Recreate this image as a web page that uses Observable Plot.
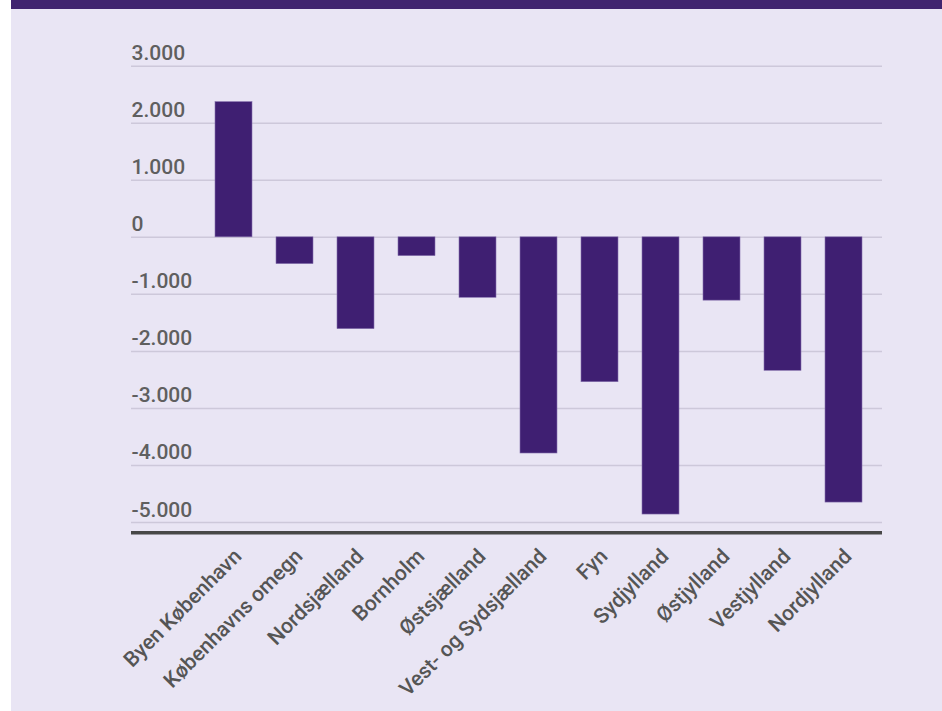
<!DOCTYPE html>
<html>
<head>
<meta charset="utf-8">
<script src="https://cdn.jsdelivr.net/npm/d3@7"></script>
<script src="https://cdn.jsdelivr.net/npm/@observablehq/plot@0.6"></script>
<style>
  html, body { margin: 0; padding: 0; background: #ffffff; }
  #wrap {
    position: absolute; left: 11px; top: 0;
    width: 931px; height: 702px;
    border-top: 9px solid #40246f;
    background: #e9e5f4;
  }
  svg { display: block; font-family: Roboto, "Noto Sans", sans-serif; }
</style>
</head>
<body>
<div id="wrap"></div>
<script>
const regions = ["Byen København", "Københavns omegn", "Nordsjælland", "Bornholm", "Østsjælland",
  "Vest- og Sydsjælland", "Fyn", "Sydjylland", "Østjylland", "Vestjylland", "Nordjylland"];
const values = [2370, -470, -1610, -330, -1060, -3790, -2540, -4860, -1110, -2340, -4650];
const yTicks = [3000, 2000, 1000, 0, -1000, -2000, -3000, -4000, -5000];
const yTickLabels = ["3.000", "2.000", "1.000", "0", "-1.000", "-2.000", "-3.000", "-4.000", "-5.000"];
const yBottom = -5180;

const data = regions.map((r, i) => ({region: r, value: values[i]}));
const ticks = yTicks.map((v, i) => ({v, label: yTickLabels[i]}));

const chart = Plot.plot({
  width: 931,
  height: 702,
  marginLeft: 120,
  marginRight: 60,
  marginTop: 40,
  marginBottom: 160,
  style: {background: "transparent", fontFamily: "Roboto, sans-serif"},
  x: {type: "band", domain: regions, range: [189.8, 864.7], paddingInner: 0.387, paddingOuter: 0.1935, axis: null},
  y: {domain: [yBottom, 3000], range: [523.3, 56.7], axis: null},
  marks: [
    Plot.ruleY(ticks, {y: "v", stroke: "#cdc8da", strokeWidth: 1.5}),
    Plot.text(ticks, {y: "v", text: "label", frameAnchor: "left", textAnchor: "start", lineAnchor: "bottom", dy: -6, fontSize: 21, fontWeight: 500, fill: "#5f5f5f"}),
    Plot.barY(data, {x: "region", y: "value", fill: "#3f1f72", stroke: "#8571ad", strokeWidth: 0.6}),
    Plot.ruleY([yBottom], {stroke: "#474747", strokeWidth: 3.5}),
    Plot.text(data, {x: "region", y: d => yBottom, text: "region", rotate: -45, textAnchor: "end", dx: 4, dy: 20, fontSize: 21, fontWeight: 500, fill: "#555555"})
  ]
});
document.getElementById("wrap").appendChild(chart);
</script>
</body>
</html>
